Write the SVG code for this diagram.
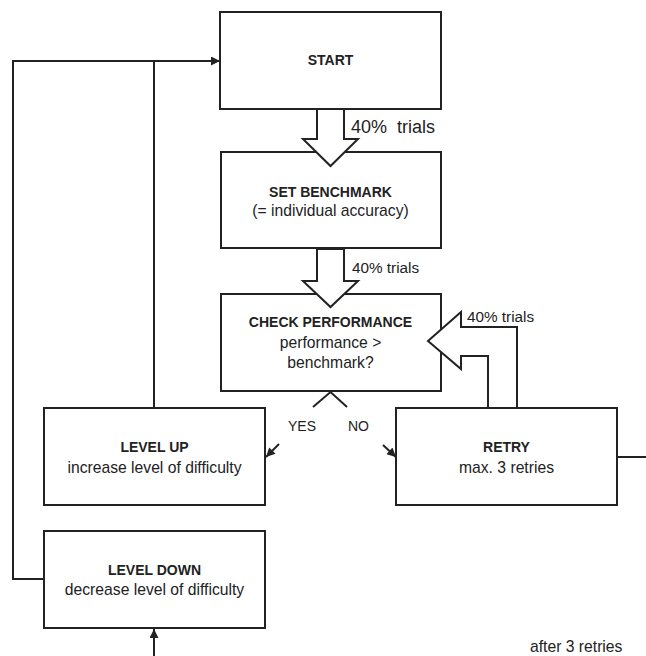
<svg xmlns="http://www.w3.org/2000/svg" width="646" height="656" viewBox="0 0 646 656">
<defs>
<style>
.box{fill:#fff;stroke:#222;stroke-width:2}
.blk{fill:#fff;stroke:#222;stroke-width:2;stroke-linejoin:miter}
.ln{fill:none;stroke:#222;stroke-width:2}
.t{font-family:"Liberation Sans",Arial,sans-serif;fill:#222;text-anchor:middle}
.b{font-size:14px;font-weight:bold}
.r{font-size:15.7px}
.lab{font-family:"Liberation Sans",Arial,sans-serif;fill:#222;font-size:15.3px}
</style>
<marker id="ah" viewBox="0 0 10 10" refX="10" refY="5" markerWidth="10" markerHeight="9" markerUnits="userSpaceOnUse" orient="auto">
<path d="M0,0 L10,5 L0,10 z" fill="#222"/>
</marker>
</defs>
<rect width="646" height="656" fill="#fff"/>

<g id="start">
<rect class="box" x="220" y="12" width="221" height="97"/>
<text class="t b" x="330.5" y="65">START</text>
</g>
<g id="set-benchmark">
<rect class="box" x="221" y="152" width="220" height="96"/>
<text class="t b" x="330.5" y="197">SET BENCHMARK</text>
<text class="t r" x="330.5" y="216">(= individual accuracy)</text>
</g>
<g id="check-performance">
<rect class="box" x="221" y="294" width="220" height="97"/>
<text class="t b" x="330.5" y="327">CHECK PERFORMANCE</text>
<text class="t r" x="330.5" y="348">performance &gt;</text>
<text class="t r" x="330.5" y="368">benchmark?</text>
</g>
<g id="level-up">
<rect class="box" x="44" y="408" width="221" height="97"/>
<text class="t b" x="154.5" y="452">LEVEL UP</text>
<text class="t r" x="154.5" y="473">increase level of difficulty</text>
</g>
<g id="retry">
<rect class="box" x="396" y="408" width="221" height="97"/>
<text class="t b" x="506.5" y="452">RETRY</text>
<text class="t r" x="506.5" y="473">max. 3 retries</text>
</g>
<g id="level-down">
<rect class="box" x="44" y="531" width="221" height="97"/>
<text class="t b" x="154.5" y="575">LEVEL DOWN</text>
<text class="t r" x="154.5" y="595">decrease level of difficulty</text>
</g>

<g id="connectors">
<polygon class="blk" points="317,109 344,109 344,139 358,139 330.5,166 303,139 317,139"/>
<polygon class="blk" points="317,249 344,249 344,281 358,281 330.5,307 303,281 317,281"/>
<polygon class="blk" points="428,341 461,312 461,327 517,327 517,408 488,408 488,356 461,356 461,369"/>
<polyline class="ln" points="313,407 330.5,392 347,407"/>
<path class="ln" d="M154,408 V61"/>
<path class="ln" d="M44,579 H13 V61 H220" marker-end="url(#ah)"/>
<path class="ln" d="M154,656 V629" marker-end="url(#ah)"/>
<path class="ln" d="M617,457 H646"/>
<path class="ln" d="M279,444 L266,457" marker-end="url(#ah)"/>
<path class="ln" d="M383,445 L396,457" marker-end="url(#ah)"/>
<text class="lab" x="351" y="133" font-size="18" style="font-size:18px" xml:space="preserve">40%  trials</text>
<text class="lab" x="352" y="273">40% trials</text>
<text class="lab" x="467" y="322">40% trials</text>
<text class="lab" x="288" y="431" style="font-size:14px">YES</text>
<text class="lab" x="348" y="431" style="font-size:14px">NO</text>
<text class="lab" x="530" y="652" style="font-size:15.7px">after 3 retries</text>
</g>
</svg>
